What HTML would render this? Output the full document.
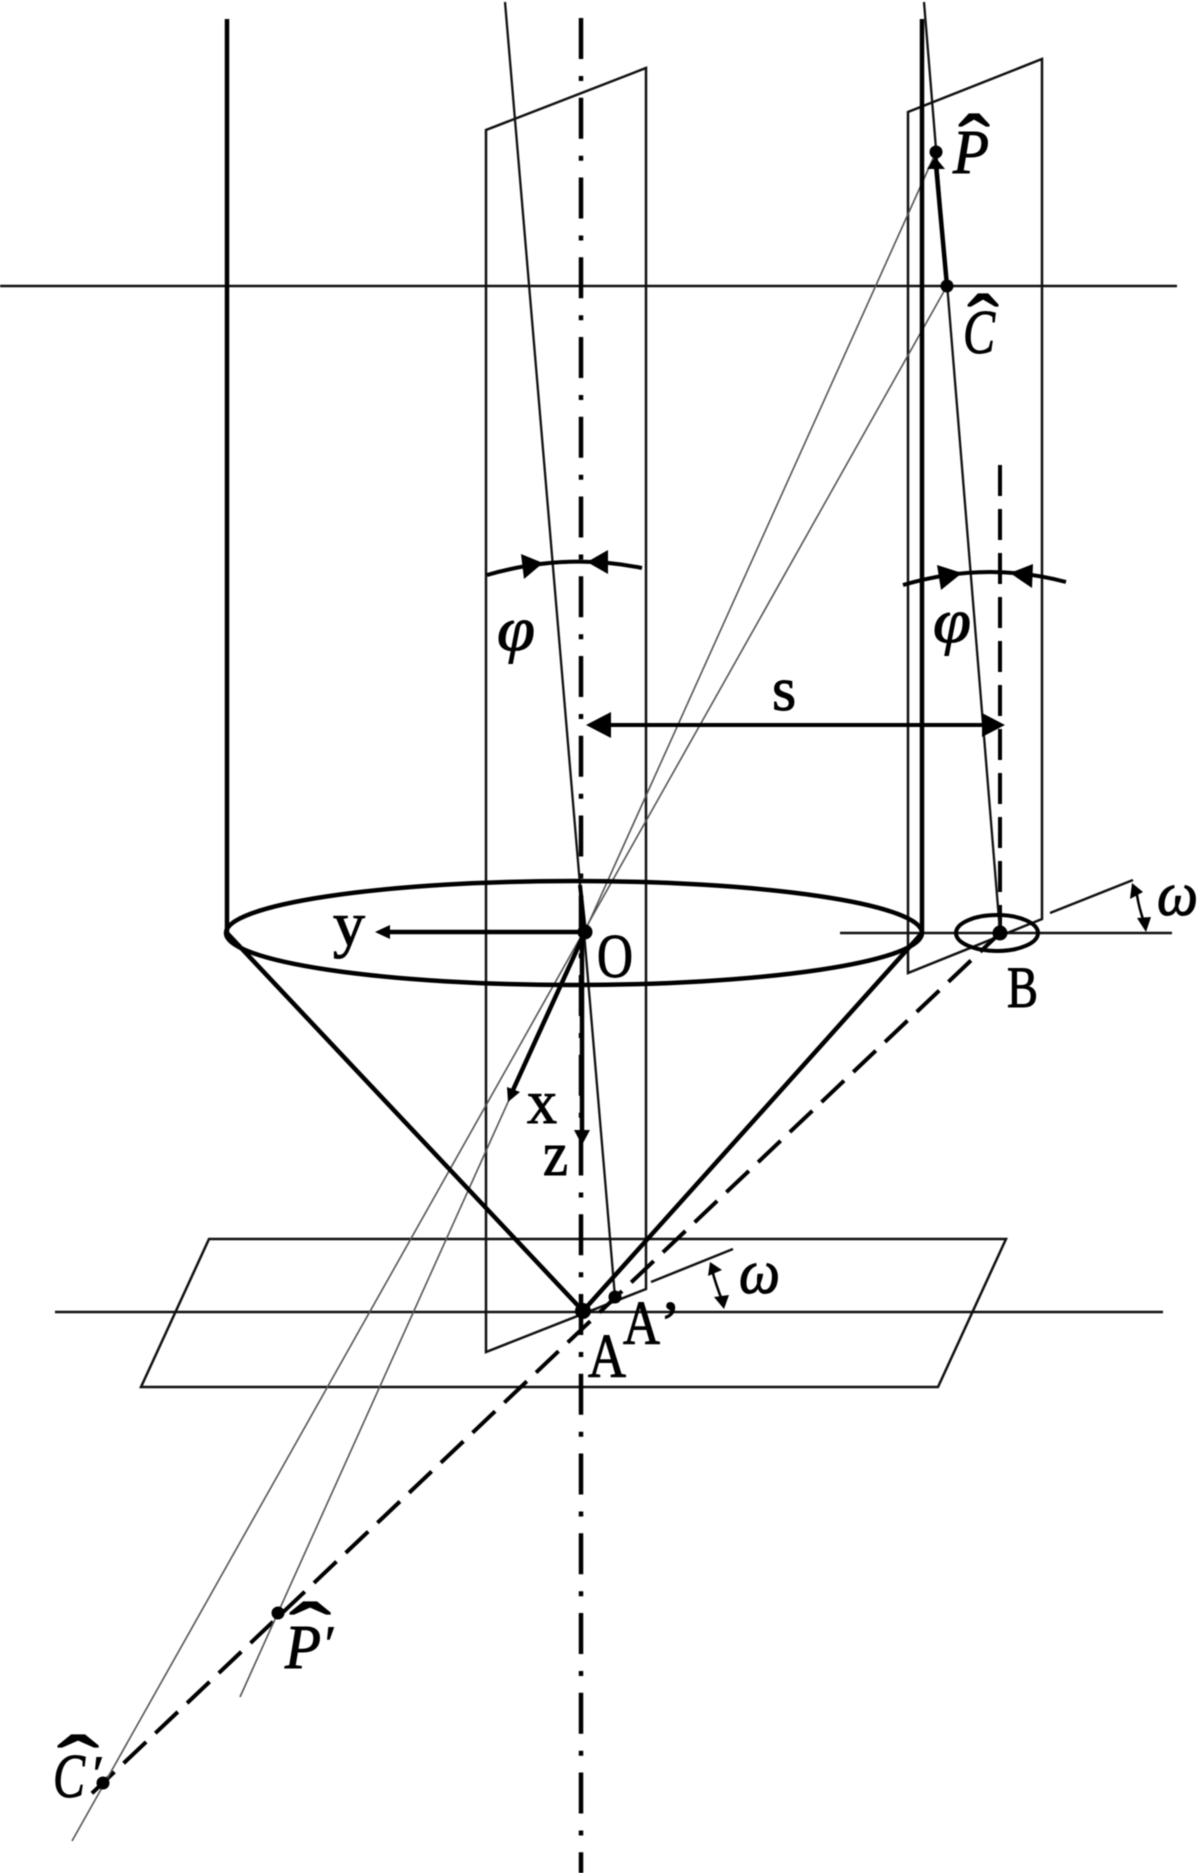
<!DOCTYPE html>
<html><head><meta charset="utf-8"><style>
html,body{margin:0;padding:0;background:#fff}
svg{display:block;filter:blur(.4px)}
text{font-family:"Liberation Serif",serif;fill:#000;stroke:#000;stroke-width:1}
.i{font-style:italic}
</style></head><body>
<svg width="1200" height="1873" viewBox="0 0 1200 1873" xmlns="http://www.w3.org/2000/svg">
<rect width="1200" height="1873" fill="#fff"/>
<g fill="none" stroke="#111">
<!-- planes -->
<path d="M486 1352V130L646 68V1289Z" stroke-width="2.5"/>
<path d="M908 973V112L1042 59V919Z" stroke-width="2.5"/>
<path d="M209 1239H1006L938 1387H141Z" stroke-width="2.5"/>
<!-- long horizontals -->
<path d="M0 286H1177M55 1312H1163M840 933H1172" stroke-width="2.5"/>
<!-- axis -->
<path d="M581 18V1873" stroke="#000" stroke-width="4.5" stroke-dasharray="41 17 5 16.75"/>
<!-- dashed -->
<path d="M1000 465V933" stroke="#000" stroke-width="4" stroke-dasharray="31 13"/>
<path d="M1000 933L88 1797" stroke="#000" stroke-width="4" stroke-dasharray="31 12.700" stroke-dashoffset="3.700"/>
<!-- thin rays -->
<path d="M936 152L240 1697M947 286L72 1841" stroke="#555" stroke-width="1.6"/>
<path d="M505 2L615 1297M924 2L1000 932" stroke-width="2.3"/>
<path d="M580 885L585 932" stroke="#000" stroke-width="4"/>
<!-- cylinder -->
<path d="M227 19V933L583 1311L922 933V19" stroke="#000" stroke-width="4.500" stroke-linejoin="bevel"/>
<ellipse cx="574" cy="933" rx="348" ry="52" stroke="#000" stroke-width="4.5"/>
<ellipse cx="997" cy="933" rx="41" ry="18" stroke="#000" stroke-width="4"/>
<!-- thick vectors -->
<path d="M585 932H388M585 932L513 1090M582 932V1135M936 165L947 286" stroke="#000" stroke-width="4.5"/>
<!-- s dim -->
<path d="M608 725H985" stroke="#000" stroke-width="4"/>
<!-- arcs -->
<path d="M487 575Q565 552.500 642 568M903 585Q985 560.500 1066 582" stroke="#000" stroke-width="4"/>
<!-- omega lines -->
<path d="M651 1282L733 1249M1050 913L1133 880" stroke-width="2.5"/>
<path d="M712 1270Q716 1285 722 1300M1137 895Q1139 908 1144 922" stroke="#000" stroke-width="2.5"/>
</g>
<g fill="#000" stroke="none">
<!-- arrowheads -->
<path d="M375 932L390 925V939Z"/>
<path d="M508 1102L507 1087L520 1092Z"/>
<path d="M582 1145L574 1130H590Z"/>
<path d="M935 157L927 169H945Z"/>
<path d="M586 725L611 712V738Z"/>
<path d="M1005 725L982 713V737Z"/>
<path d="M543 563L521 554L524 579Z"/>
<path d="M587 562L608 550V574Z"/>
<path d="M962 573L937 565L941 590Z"/>
<path d="M1010 573L1033 564L1032 588Z"/>
<path d="M710 1262L708 1276L722 1270Z"/>
<path d="M724 1309L714 1297L729 1295Z"/>
<path d="M1132 883L1130 899L1143 892Z"/>
<path d="M1146 932L1137 918L1151 917Z"/>
<!-- dots -->
<circle cx="585" cy="932" r="7.500"/>
<circle cx="583" cy="1311" r="8"/>
<circle cx="615" cy="1297" r="6.500"/>
<circle cx="936" cy="152" r="6.500"/>
<circle cx="947" cy="286" r="6.500"/>
<circle cx="1000" cy="933" r="7.500"/>
<circle cx="278" cy="1613" r="6.500"/>
<circle cx="103" cy="1783" r="6.500"/>
</g>
<!-- labels -->
<text class="i" x="953" y="173" font-size="62" textLength="36" lengthAdjust="spacingAndGlyphs">P</text>
<text transform="translate(974 170) scale(1.500 1.300)" font-size="62" text-anchor="middle">ˆ</text>
<text class="i" x="963" y="353" font-size="62" textLength="32" lengthAdjust="spacingAndGlyphs">C</text>
<text transform="translate(983 350) scale(1.500 1.300)" font-size="62" text-anchor="middle">ˆ</text>
<text class="i" x="285" y="1668" font-size="62" textLength="36" lengthAdjust="spacingAndGlyphs">P</text>
<text class="i" x="322" y="1660" font-size="50">′</text>
<text transform="translate(310 1658) scale(2 1.300)" font-size="62" text-anchor="middle">ˆ</text>
<text class="i" x="53" y="1797" font-size="62" textLength="32" lengthAdjust="spacingAndGlyphs">C</text>
<text class="i" x="90" y="1790" font-size="50">′</text>
<text transform="translate(78 1791) scale(2 1.300)" font-size="62" text-anchor="middle">ˆ</text>
<text class="i" x="497" y="650" font-size="62" textLength="38" lengthAdjust="spacingAndGlyphs">φ</text>
<text class="i" x="933" y="642" font-size="62" textLength="38" lengthAdjust="spacingAndGlyphs">φ</text>
<text x="772" y="710" font-size="62">s</text>
<text x="333" y="945" font-size="62" textLength="32" lengthAdjust="spacingAndGlyphs">y</text>
<text x="597" y="977" font-size="62" textLength="36" lengthAdjust="spacingAndGlyphs">O</text>
<text x="527" y="1123" font-size="62" textLength="30" lengthAdjust="spacingAndGlyphs">x</text>
<text x="543" y="1175" font-size="62" textLength="25" lengthAdjust="spacingAndGlyphs">z</text>
<text x="588" y="1377" font-size="62" textLength="38" lengthAdjust="spacingAndGlyphs">A</text>
<text x="623" y="1344" font-size="62" textLength="37" lengthAdjust="spacingAndGlyphs">A</text>
<text x="660" y="1344" font-size="62">’</text>
<text x="1007" y="1007" font-size="58" textLength="31" lengthAdjust="spacingAndGlyphs">B</text>
<text class="i" x="1157" y="915" font-size="62" textLength="41" lengthAdjust="spacingAndGlyphs">ω</text>
<text class="i" x="739" y="1293" font-size="62" textLength="41" lengthAdjust="spacingAndGlyphs">ω</text>
</svg>
</body></html>
